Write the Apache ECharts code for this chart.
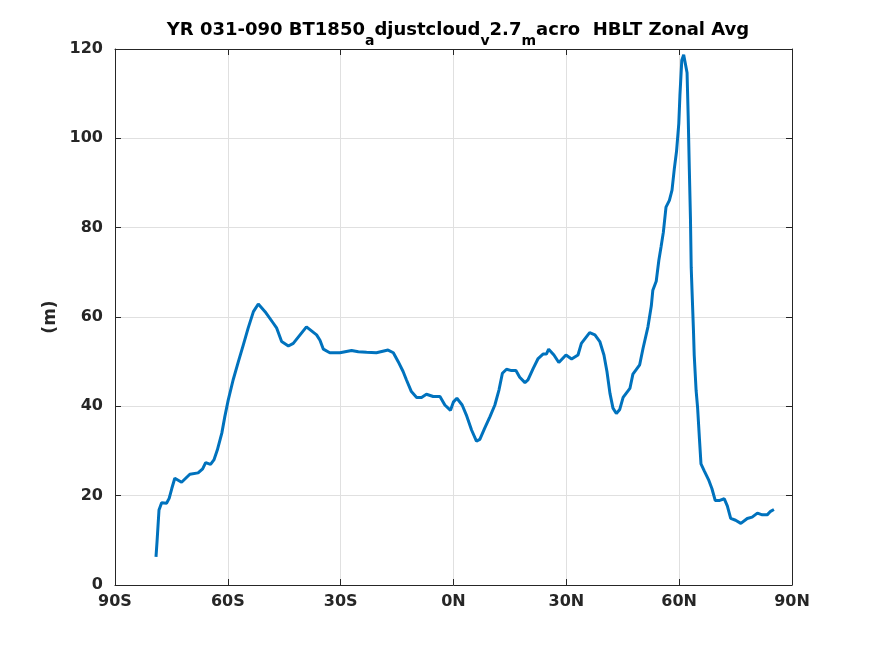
<!DOCTYPE html>
<html>
<head>
<meta charset="utf-8">
<script src="https://cdn.jsdelivr.net/npm/echarts@6/dist/echarts.min.js"></script>
<style>
  html, body { margin: 0; padding: 0; background: #fff; }
  #chart { width: 875px; height: 656px; }
</style>
</head>
<body>
<div id="chart"></div>
<script>
// latitude (deg, S negative) and HBLT zonal mean (m)
var lats = [
  -79.1, -78.8, -78.3, -77.6, -76.3, -75.6, -74.9, -74.1, -72.3, -70.1,
  -67.9, -66.7, -65.9, -64.6, -63.7, -62.8, -61.6, -60.8, -59.9, -58.6,
  -57.2, -55.9, -54.6, -53.2, -51.9, -50.1, -47.9, -47.0, -45.7, -43.9,
  -42.6, -40.8, -39.1, -36.4, -35.5, -34.6, -32.9, -30.2, -27.1, -25.3,
  -23.1, -20.5, -17.4, -16.0, -14.7, -13.4, -12.5, -11.2, -9.8, -8.5,
  -7.2, -5.4, -3.6, -2.3, -0.8, 0.0, 0.9, 2.3, 3.4, 4.8,
  6.1, 7.0, 8.3, 9.7, 11.0, 12.1, 13.0, 14.1, 15.4, 16.6,
  17.6, 19.0, 19.8, 21.2, 22.5, 23.8, 24.7, 25.3, 26.7, 28.0,
  29.9, 31.4, 33.1, 34.0, 36.2, 37.6, 38.9, 40.0, 40.8, 41.6,
  42.4, 43.3, 44.2, 45.1, 46.9, 47.7, 49.5, 50.4, 51.7, 52.6,
  53.0, 53.9, 54.6, 55.2, 55.8, 56.5, 57.4, 58.1, 58.7, 59.3,
  59.9, 60.2, 60.7, 61.2, 61.7, 62.1, 62.4, 62.7, 63.0, 63.2,
  63.5, 63.8, 64.0, 64.5, 64.9, 65.4, 65.8, 66.7, 67.8, 68.7,
  69.6, 70.6, 72.0, 72.8, 73.7, 75.0, 76.4, 78.1, 79.4, 80.8,
  82.1, 83.4, 84.3, 85.2
];
var hblt = [
  6.3, 10.0, 16.8, 18.4, 18.3, 19.4, 21.6, 23.9, 23.0, 24.8,
  25.1, 26.0, 27.4, 27.0, 28.0, 30.2, 34.0, 37.7, 41.4, 45.9,
  50.0, 53.7, 57.5, 61.2, 62.9, 61.2, 58.6, 57.5, 54.5, 53.5,
  54.1, 56.0, 57.8, 56.0, 54.8, 52.8, 52.0, 52.0, 52.5, 52.2,
  52.1, 52.0, 52.6, 52.0, 50.0, 47.8, 45.9, 43.3, 42.0, 42.0,
  42.7, 42.2, 42.2, 40.3, 39.1, 41.0, 41.8, 40.3, 38.1, 34.7,
  32.2, 32.6, 35.1, 37.7, 40.3, 43.7, 47.4, 48.3, 48.0, 48.0,
  46.5, 45.3, 45.9, 48.5, 50.7, 51.7, 51.7, 52.8, 51.5, 49.8,
  51.5, 50.6, 51.5, 54.1, 56.5, 56.0, 54.5, 51.5, 47.8, 42.9,
  39.6, 38.4, 39.3, 42.0, 44.0, 47.2, 49.3, 53.0, 57.8, 62.5,
  66.0, 68.0, 72.7, 75.8, 79.0, 84.6, 86.1, 88.4, 93.1, 97.1,
  103.3, 109.6, 117.5, 118.7, 118.7, 114.7, 104.9, 93.1, 82.1, 71.1,
  64.0, 57.0, 51.5, 43.6, 39.7, 32.6, 27.1, 25.5, 23.6, 21.6,
  18.9, 18.9, 19.3, 17.7, 14.9, 14.5, 13.8, 14.9, 15.2, 16.1,
  15.7, 15.7, 16.5, 16.9
];
var xTickLabels = ['90S', '60S', '30S', '0N', '30N', '60N', '90N'];
var yTicks = [0, 20, 40, 60, 80, 100, 120];

var axisColor = '#262626';
var font = 'DejaVu Sans';

function frameAxis(pos, isX) {
  return {
    type: 'value',
    position: pos,
    min: isX ? -90 : 0,
    max: isX ? 90 : 120,
    interval: isX ? 30 : 20,
    axisLine: { show: true, onZero: false, lineStyle: { color: axisColor, width: 1 } },
    axisTick: { show: true, inside: true, length: 6, lineStyle: { color: axisColor } },
    axisLabel: { show: false },
    splitLine: { show: false }
  };
}

var chart = echarts.init(document.getElementById('chart'));

var xMain = frameAxis('bottom', true);
xMain.axisLabel = {
  show: true, color: axisColor, fontFamily: font, fontWeight: 'bold', fontSize: 16, margin: 9,
  formatter: function (v) { return xTickLabels[Math.round((v + 90) / 30)]; }
};
xMain.splitLine = { show: true, lineStyle: { color: '#e0e0e0', width: 1 } };

var yMain = frameAxis('left', false);
yMain.axisLabel = {
  show: true, color: axisColor, fontFamily: font, fontWeight: 'bold', fontSize: 16, margin: 12,
  formatter: function (v) { return yTicks.indexOf(v) >= 0 ? String(v) : ''; }
};
yMain.splitLine = { show: true, lineStyle: { color: '#e0e0e0', width: 1 } };
yMain.name = '(m)';
yMain.nameLocation = 'middle';
yMain.nameGap = 53;
yMain.nameRotate = 90;
yMain.nameTextStyle = { color: axisColor, fontFamily: font, fontWeight: 'bold', fontSize: 17 };

chart.setOption({
  animation: false,
  backgroundColor: '#ffffff',
  title: {
    text: 'YR 031-090 BT1850{s|a}djustcloud{s|v}2.7{s|m}acro  HBLT Zonal Avg',
    left: 453,
    top: 8,
    textAlign: 'center',
    textStyle: {
      color: '#000', fontFamily: font, fontWeight: 'bold', fontSize: 18, lineHeight: 22,
      rich: {
        s: { color: '#000', fontFamily: font, fontWeight: 'bold', fontSize: 14, verticalAlign: 'bottom', lineHeight: 35 }
      }
    }
  },
  grid: { left: 115, right: 83, top: 49, bottom: 71, containLabel: false },
  xAxis: [xMain, frameAxis('top', true)],
  yAxis: [yMain, frameAxis('right', false)],
  series: [{
    type: 'line',
    xAxisIndex: 0,
    yAxisIndex: 0,
    data: lats.map(function (la, i) { return [la, hblt[i]]; }),
    showSymbol: false,
    smooth: false,
    lineStyle: { color: '#0072BD', width: 3 },
    itemStyle: { color: '#0072BD' }
  }]
});
</script>
</body>
</html>
